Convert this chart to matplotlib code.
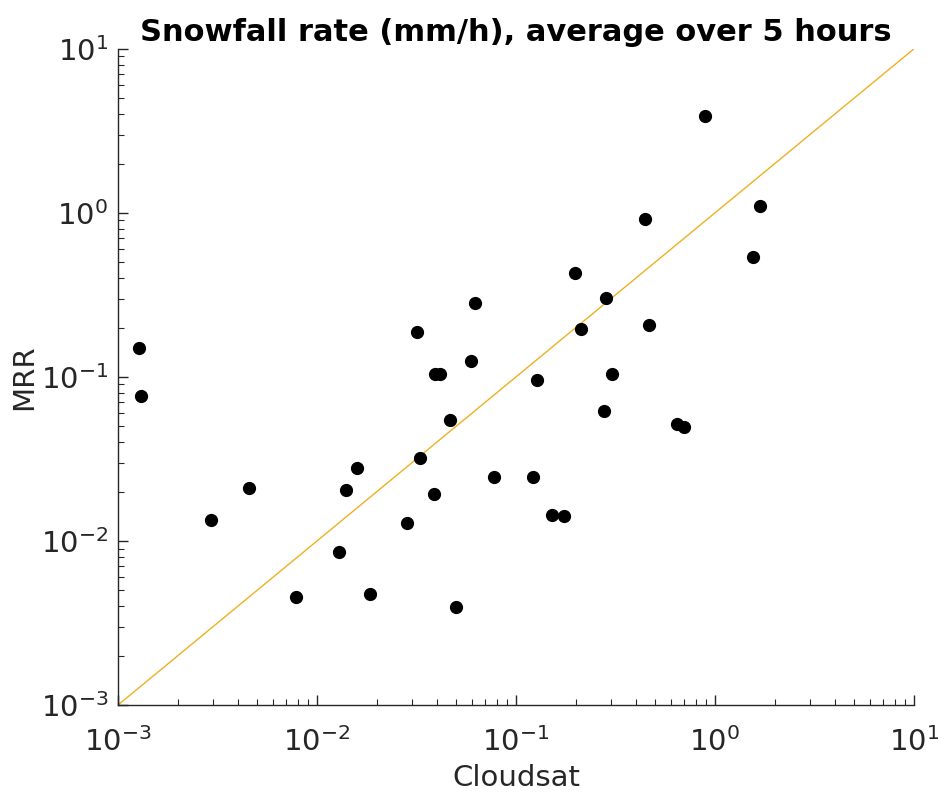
import numpy as np
import matplotlib.pyplot as plt

# Snowfall rate (mm/h), 5 h averages: Cloudsat vs MRR
cloudsat = [0.00128, 0.00130, 0.00293, 0.00455, 0.00783, 0.0129, 0.0140, 0.0159,
            0.0185, 0.0283, 0.0318, 0.0330, 0.0387, 0.0391, 0.0415, 0.0466,
            0.0499, 0.0594, 0.0622, 0.0774, 0.122, 0.128, 0.152, 0.174,
            0.198, 0.212, 0.277, 0.283, 0.303, 0.445, 0.465, 0.644,
            0.698, 0.891, 1.55, 1.68]
mrr = [0.150, 0.0766, 0.0134, 0.0210, 0.00456, 0.00857, 0.0205, 0.0279,
       0.00475, 0.0129, 0.188, 0.0321, 0.0194, 0.104, 0.104, 0.0547,
       0.00397, 0.125, 0.282, 0.0245, 0.0245, 0.0960, 0.0144, 0.0143,
       0.431, 0.196, 0.0621, 0.303, 0.104, 0.918, 0.207, 0.0516,
       0.0496, 3.90, 0.540, 1.10]
one_to_one = [1e-3, 1e1]

axcol = '#262626'

fig = plt.figure(figsize=(9.44, 7.95), dpi=100)
ax = fig.add_axes([0.125, 0.1132, 0.843, 0.8252])

ax.plot(one_to_one, one_to_one, color='#EDB120', lw=1.0, zorder=1)
ax.plot(cloudsat, mrr, 'o', color='k', markersize=8.5, zorder=2)

ax.set_xscale('log')
ax.set_yscale('log')
ax.set_xlim(1e-3, 1e1)
ax.set_ylim(1e-3, 1e1)

for s in ['top', 'right']:
    ax.spines[s].set_visible(False)
for s in ['left', 'bottom']:
    ax.spines[s].set_color(axcol)
    ax.spines[s].set_linewidth(1.0)

ax.tick_params(which='both', direction='in', colors=axcol, labelsize=21)
ax.tick_params(which='major', length=7, width=1.0)
ax.tick_params(which='minor', length=4, width=0.8)
ax.tick_params(axis='x', pad=16)
ax.tick_params(axis='y', pad=7)

ax.set_title('Snowfall rate (mm/h), average over 5 hours', fontsize=22,
             fontweight='bold', pad=6)
ax.set_xlabel('Cloudsat', fontsize=21, color=axcol, labelpad=5)
ax.set_ylabel('MRR', fontsize=21, color=axcol, labelpad=1.5)

fig.savefig('out.png', dpi=100, facecolor='white')
